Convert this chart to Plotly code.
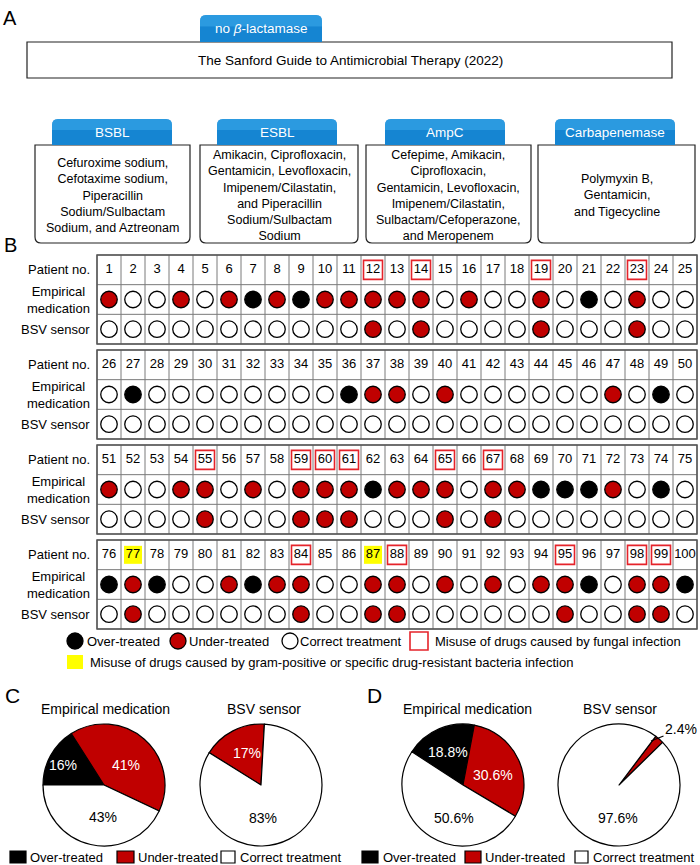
import plotly.graph_objects as go

W, H = 700, 865
FONT = "Liberation Sans, Arial, sans-serif"

# ---------------- Data ----------------
# Panel A
top_tab_label = "no <i>β</i>-lactamase"
guide_title = "The Sanford Guide to Antimicrobial Therapy (2022)"
enzyme_classes = ["BSBL", "ESBL", "AmpC", "Carbapenemase"]
enzyme_drugs = [
    "Cefuroxime sodium,<br>Cefotaxime sodium,<br>Piperacillin<br>Sodium/Sulbactam<br>Sodium, and Aztreonam",
    "Amikacin, Ciprofloxacin,<br>Gentamicin, Levofloxacin,<br>Imipenem/Cilastatin,<br>and Piperacillin<br>Sodium/Sulbactam<br>Sodium",
    "Cefepime, Amikacin,<br>Ciprofloxacin,<br>Gentamicin, Levofloxacin,<br>Imipenem/Cilastatin,<br>Sulbactam/Cefoperazone,<br>and Meropenem",
    "Polymyxin B,<br>Gentamicin,<br>and Tigecycline",
]

# Panel B  (O = over-treated, U = under-treated, C = correct treatment)
patient_ids = list(range(1, 101))
empirical_1_25 = list("UCCUCUOUOUUUUUCUCCUCOCUCC")
empirical_26_50 = list("COCCCCCCCCOUUCUCCCCCCUCOC")
empirical_51_75 = list("UCCUUCUCUUUOUUUCUUOOOUCOC")
empirical_76_100 = list("OUOCCUOUUCCUUCUCUCUUOCUUO")
bsv_1_25 = list("CCCCCCCCCCCUCUCCCCUCCCUCC")
bsv_26_50 = list("CCCCCCCCCCCCCCCCCCCCCCCCC")
bsv_51_75 = list("CCCCUCCCUUUCCCUCUCCCCCCCC")
bsv_76_100 = list("CUCCCCCCUCCUUCCCCCCUCCUUC")
fungal_misuse = [12, 14, 19, 23, 55, 59, 60, 61, 65, 67, 84, 88, 95, 98, 99]
gram_positive_misuse = [77, 87]
row_labels = ["Patient no.", "Empirical<br>medication", "BSV sensor"]

# Panels C / D
outcome_labels = ["Over-treated", "Under-treated", "Correct treatment"]
c_empirical = [16, 41, 43]
c_bsv = [0, 17, 83]
d_empirical = [18.8, 30.6, 50.6]
d_bsv = [0, 2.4, 97.6]

# ---------------- Styles ----------------
status_fill = {"O": "#000000", "U": "#C00000", "C": "#FFFFFF"}
outcome_colors = ["#000000", "#C00000", "#FFFFFF"]
BLUE = "#1585D2"
RED_BOX = "#E5232A"

empirical_status = empirical_1_25 + empirical_26_50 + empirical_51_75 + empirical_76_100
bsv_status = bsv_1_25 + bsv_26_50 + bsv_51_75 + bsv_76_100

fig = go.Figure()
shapes = []
ann = []


def text(x, y, s, size=13, color="black", xanchor="center", align="center", yanchor="middle"):
    ann.append(dict(x=x, y=y, xref="x", yref="y", text=s, showarrow=False,
                    font=dict(family=FONT, size=size, color=color),
                    xanchor=xanchor, yanchor=yanchor, align=align))


def tab(x0, x1, y0, y1, r=6):
    p = (f"M{x0},{y1} L{x0},{y0+r} Q{x0},{y0} {x0+r},{y0} L{x1-r},{y0} "
         f"Q{x1},{y0} {x1},{y0+r} L{x1},{y1} Z")
    shapes.append(dict(type="path", path=p, xref="x", yref="y",
                       fillcolor=BLUE, line=dict(width=0), layer="above"))
    ym = (y0 + y1) / 2 - 2
    p2 = (f"M{x0},{ym} L{x0},{y0+r} Q{x0},{y0} {x0+r},{y0} L{x1-r},{y0} "
          f"Q{x1},{y0} {x1},{y0+r} L{x1},{ym} Z")
    shapes.append(dict(type="path", path=p2, xref="x", yref="y",
                       fillcolor="#3AA8EA", opacity=0.6, line=dict(width=0), layer="above"))


def box(x0, x1, y0, y1, r=6):
    p = (f"M{x0},{y0} L{x1},{y0} L{x1},{y1-r} Q{x1},{y1} {x1-r},{y1} "
         f"L{x0+r},{y1} Q{x0},{y1} {x0},{y1-r} Z")
    shapes.append(dict(type="path", path=p, xref="x", yref="y",
                       fillcolor="white", line=dict(color="#222", width=1.2)))


# ---------------- Panel A ----------------
text(10, 18, "A", size=20)
shapes.append(dict(type="rect", x0=27, x1=672, y0=42, y1=78, xref="x", yref="y",
                   fillcolor="white", line=dict(color="#222", width=1.2)))
tab(200, 322, 15, 42)
text(261, 28.5, top_tab_label, size=13.5, color="white")
text(350, 60, guide_title, size=13.5)

box_x = [(35, 190), (200, 358), (366, 531), (538, 695)]
tab_x = [(52, 172), (217, 337), (385, 505), (555, 675)]
for (bx0, bx1), (tx0, tx1), name, drugs in zip(box_x, tab_x, enzyme_classes, enzyme_drugs):
    box(bx0, bx1, 145, 243)
    tab(tx0, tx1, 119, 145)
    text((tx0 + tx1) / 2, 132, name, size=13.5, color="white")
    text((bx0 + bx1) / 2, 195, drugs, size=12.5)

# ---------------- Panel B ----------------
text(10, 245, "B", size=20)
GX0, CW = 97, 24
BT, BH, BSTEP = 255, 89, 95
RH = BH / 3

for k in range(4):
    top = BT + k * BSTEP
    for j in range(26):
        shapes.append(dict(type="line", x0=GX0 + j * CW, x1=GX0 + j * CW, y0=top, y1=top + BH,
                           xref="x", yref="y", line=dict(color="#7a7a7a", width=1)))
    for i in range(4):
        shapes.append(dict(type="line", x0=GX0, x1=GX0 + 25 * CW, y0=top + i * RH, y1=top + i * RH,
                           xref="x", yref="y", line=dict(color="#7a7a7a", width=1)))
    shapes.append(dict(type="rect", x0=GX0, x1=GX0 + 25 * CW, y0=top, y1=top + BH,
                       xref="x", yref="y", line=dict(color="#555", width=1.5)))
    text(92, top + RH * 0.5, row_labels[0], xanchor="right")
    text(92, top + RH * 1.5, row_labels[1], xanchor="right", align="center")
    text(92, top + RH * 2.5, row_labels[2], xanchor="right")

px = [GX0 + CW / 2 + CW * ((p - 1) % 25) for p in patient_ids]
block_top = [BT + BSTEP * ((p - 1) // 25) for p in patient_ids]

# yellow highlight (gram-positive / specific resistant)
fig.add_trace(go.Scatter(
    x=[px[p - 1] for p in gram_positive_misuse],
    y=[block_top[p - 1] + RH * 0.5 for p in gram_positive_misuse],
    mode="markers", marker=dict(symbol="square", size=18, color="#FFFF00", line=dict(width=0)),
    hoverinfo="skip", showlegend=False))
# patient numbers
fig.add_trace(go.Scatter(
    x=px, y=[t + RH * 0.5 for t in block_top], mode="text",
    text=[str(p) for p in patient_ids],
    textfont=dict(family=FONT, size=13, color="black"),
    hoverinfo="skip", showlegend=False))
# red boxes (fungal)
fig.add_trace(go.Scatter(
    x=[px[p - 1] for p in fungal_misuse],
    y=[block_top[p - 1] + RH * 0.5 for p in fungal_misuse],
    mode="markers", marker=dict(symbol="square-open", size=19, color=RED_BOX, line=dict(width=1.6, color=RED_BOX)),
    hoverinfo="skip", showlegend=False))
# empirical medication circles
fig.add_trace(go.Scatter(
    x=px, y=[t + RH * 1.5 for t in block_top], mode="markers",
    marker=dict(size=16.5, color=[status_fill[s] for s in empirical_status],
                line=dict(color="black", width=1.3)),
    hoverinfo="skip", showlegend=False))
# BSV sensor circles
fig.add_trace(go.Scatter(
    x=px, y=[t + RH * 2.5 for t in block_top], mode="markers",
    marker=dict(size=16.5, color=[status_fill[s] for s in bsv_status],
                line=dict(color="black", width=1.3)),
    hoverinfo="skip", showlegend=False))

# legend of panel B
LY1, LY2 = 641, 662
for cx, col, tx, lab in [(75, "#000", 85, "Over-treated"), (178, "#C00000", 187, "Under-treated"),
                         (290, "#FFF", 298, "Correct treatment")]:
    shapes.append(dict(type="circle", x0=cx - 8, x1=cx + 8, y0=LY1 - 8, y1=LY1 + 8, xref="x", yref="y",
                       fillcolor=col, line=dict(color="black", width=1.3)))
    text(tx, LY1, lab, xanchor="left")
shapes.append(dict(type="rect", x0=410, x1=428, y0=LY1 - 9, y1=LY1 + 9, xref="x", yref="y",
                   line=dict(color=RED_BOX, width=1.6)))
text(433, LY1, "Misuse of drugs caused by fungal infection", xanchor="left")
shapes.append(dict(type="rect", x0=67, x1=83, y0=LY2 - 7, y1=LY2 + 7, xref="x", yref="y",
                   fillcolor="#FFFF00", line=dict(width=0)))
text(88, LY2, "Misuse of drugs caused by gram-positive or specific drug-resistant bacteria infection",
     xanchor="left")

# ---------------- Panels C / D ----------------
text(12, 695, "C", size=21)
text(374, 695, "D", size=21)


def dom(x0, x1, y0, y1):
    return dict(x=[x0 / W, x1 / W], y=[1 - y1 / H, 1 - y0 / H])


def pie(values, x0, rotation):
    fig.add_trace(go.Pie(
        labels=outcome_labels, values=values, sort=False, direction="clockwise",
        rotation=rotation, textinfo="none", hoverinfo="skip", showlegend=False,
        marker=dict(colors=outcome_colors, line=dict(color="black", width=1.2)),
        domain=dom(x0, x0 + 122, 724, 846)))


pie(c_empirical, 43, 270)
pie(c_bsv, 200, -58)
pie(d_empirical, 402, -57)
pie(d_bsv, 558, 37)

for cx, title in [(105, "Empirical medication"), (264, "BSV sensor"),
                  (467, "Empirical medication"), (620, "BSV sensor")]:
    text(cx, 709, title, size=14)


def pct(v):
    return f"{v:g}%"


# C labels
text(63, 765, pct(c_empirical[0]), size=14, color="white")
text(126, 765, pct(c_empirical[1]), size=14, color="white")
text(103, 817, pct(c_empirical[2]), size=14)
text(247, 753, pct(c_bsv[1]), size=14, color="white")
text(263, 818, pct(c_bsv[2]), size=14)
# D labels
text(448, 752, pct(d_empirical[0]), size=14, color="white")
text(493, 775, pct(d_empirical[1]), size=14, color="white")
text(454, 818, pct(d_empirical[2]), size=14)
text(618, 818, pct(d_bsv[2]), size=14)
ann.append(dict(x=651, y=741, xref="x", yref="y", text=pct(d_bsv[1]), showarrow=True,
                arrowhead=0, arrowwidth=1.2, arrowcolor="black", ax=30, ay=-12,
                font=dict(family=FONT, size=14, color="black")))

# pie legends
PLY = 857
for specs in [[(10, 26, "#000", 28, outcome_labels[0]),
               (117, 134, "#C00000", 136, outcome_labels[1]),
               (221, 235, "#FFF", 238, outcome_labels[2])],
              [(362, 378, "#000", 381, outcome_labels[0]),
               (465, 481, "#C00000", 483, outcome_labels[1]),
               (575, 588, "#FFF", 591, outcome_labels[2])]]:
    for sx0, sx1, col, tx, lab in specs:
        shapes.append(dict(type="rect", x0=sx0, x1=sx1, y0=PLY - 6, y1=PLY + 6,
                           xref="x", yref="y", fillcolor=col, line=dict(color="black", width=1.2)))
        text(tx, PLY, lab, size=13, xanchor="left")

fig.update_layout(
    width=W, height=H, margin=dict(l=0, r=0, t=0, b=0),
    paper_bgcolor="white", plot_bgcolor="white",
    xaxis=dict(range=[0, W], visible=False, fixedrange=True, domain=[0, 1]),
    yaxis=dict(range=[H, 0], visible=False, fixedrange=True, domain=[0, 1]),
    shapes=shapes, annotations=ann, showlegend=False,
)
fig.write_html("out.html", config={"displayModeBar": False},
               post_script="document.body.style.margin='0';")
